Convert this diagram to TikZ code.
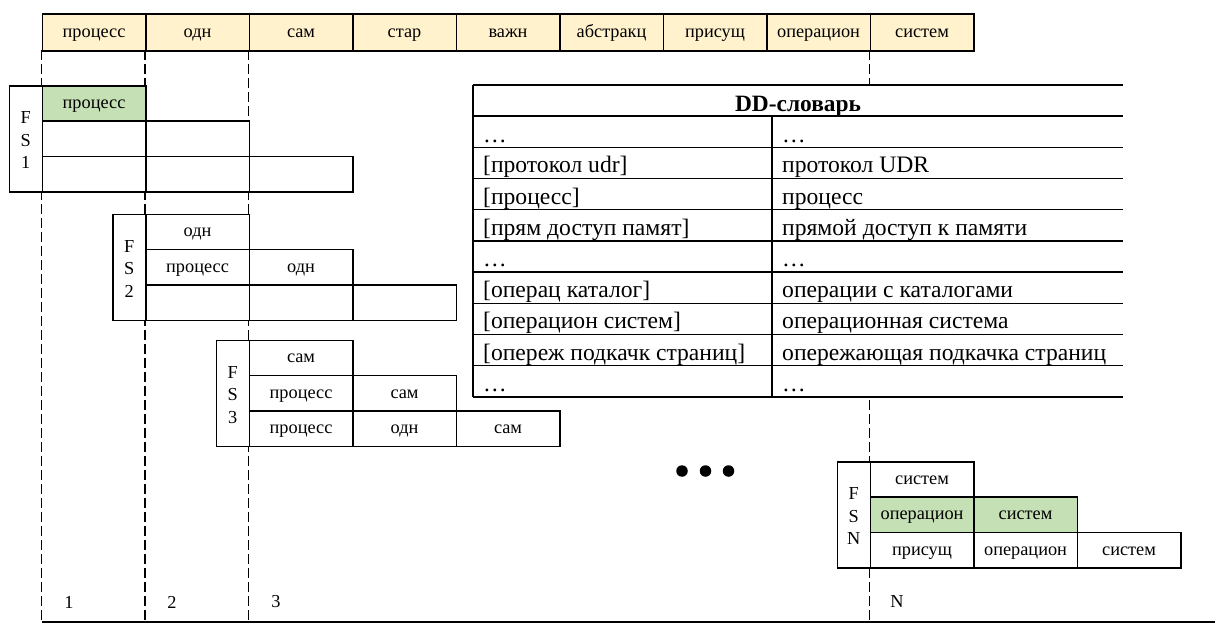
\documentclass[tikz,border=0pt]{standalone}
\usepackage{fontspec}
\setmainfont{Liberation Serif}
\definecolor{hdrfill}{HTML}{FFF2CC}
\definecolor{grn}{HTML}{C5E0B4}
\tikzset{
  cellbox/.style={draw=black, line width=1.6pt, fill=white, anchor=north west, minimum width=103.5pt, minimum height=35.33pt, inner sep=0pt, font=\fontsize{18.3}{22}\selectfont, text height=9.8pt, text depth=0pt},
  hdrbox/.style={cellbox, fill=hdrfill, minimum height=36.5pt},
  grnbox/.style={cellbox, fill=grn},
  fslabel/.style={draw=black, line width=1.6pt, fill=white, anchor=north west, minimum width=33pt, minimum height=106pt, inner sep=0pt},
  fstext/.style={align=center, inner sep=0pt, font=\fontsize{18.3}{22.5}\selectfont},
  guide/.style={line width=1.3pt, dash pattern=on 10pt off 4pt},
  tline/.style={line width=1.4pt},
  ttext/.style={anchor=base west, inner sep=0pt, font=\fontsize{23.6}{28}\selectfont},
  axnum/.style={font=\fontsize{18.3}{22}\selectfont, inner sep=0pt},
  dotc/.style={fill=black, circle, minimum size=11.5pt, inner sep=0pt}
}
\begin{document}
\begin{tikzpicture}[x=1pt,y=-1pt]
\useasboundingbox (0,0) rectangle (1227,626);
% guide coordinates
\coordinate (g1t) at (41.5,50); \coordinate (g1b) at (41.5,622);
\coordinate (g2t) at (145,50); \coordinate (g2b) at (145,622);
\coordinate (g3t) at (248.5,50); \coordinate (g3b) at (248.5,622);
\coordinate (gnt) at (869.5,50); \coordinate (gnb) at (869.5,622);
\coordinate (axr) at (1215,622);
\draw[guide] (g1t) -- (g1b);
\draw[guide] (g2t) -- (g2b);
\draw[guide] (g3t) -- (g3b);
\draw[guide] (gnt) -- (gnb);
\draw[line width=1.6pt] (g1b) -- (axr);
% header
\node[hdrbox] (h1) at (41.5,13.5) {процесс};
\node[hdrbox] (h2) at (145,13.5) {одн};
\node[hdrbox] (h3) at (248.5,13.5) {сам};
\node[hdrbox] (h4) at (352,13.5) {стар};
\node[hdrbox] (h5) at (455.5,13.5) {важн};
\node[hdrbox] (h6) at (559,13.5) {абстракц};
\node[hdrbox] (h7) at (662.5,13.5) {присущ};
\node[hdrbox] (h8) at (766,13.5) {операцион};
\node[hdrbox] (h9) at (869.5,13.5) {систем};
% FS1
\node[fslabel] (fs1) at (8.5,85) {};
\node[fstext, yshift=-1.5pt] (fs1t) at (fs1.center) {F\\S\\1};
\node[grnbox] (a11) at (41.5,85) {процесс};
\node[cellbox] (a21) at (41.5,120.33) {};
\node[cellbox] (a22) at (145,120.33) {};
\node[cellbox] (a31) at (41.5,155.67) {};
\node[cellbox] (a32) at (145,155.67) {};
\node[cellbox] (a33) at (248.5,155.67) {};
% FS2
\node[fslabel] (fs2) at (112,213.5) {};
\node[fstext, yshift=-1.5pt] (fs2t) at (fs2.center) {F\\S\\2};
\node[cellbox] (b11) at (145,213.5) {одн};
\node[cellbox] (b21) at (145,248.83) {процесс};
\node[cellbox] (b22) at (248.5,248.83) {одн};
\node[cellbox] (b31) at (145,284.17) {};
\node[cellbox] (b32) at (248.5,284.17) {};
\node[cellbox] (b33) at (352,284.17) {};
% FS3
\node[fslabel] (fs3) at (215.5,339.5) {};
\node[fstext, yshift=-1.5pt] (fs3t) at (fs3.center) {F\\S\\3};
\node[cellbox] (c11) at (248.5,339.5) {сам};
\node[cellbox] (c21) at (248.5,374.83) {процесс};
\node[cellbox] (c22) at (352,374.83) {сам};
\node[cellbox] (c31) at (248.5,410.17) {процесс};
\node[cellbox] (c32) at (352,410.17) {одн};
\node[cellbox] (c33) at (455.5,410.17) {сам};
% FSN
\node[fslabel] (fsn) at (836.5,461) {};
\node[fstext, yshift=-1.5pt] (fsnt) at (fsn.center) {F\\S\\N};
\node[cellbox] (n11) at (869.5,461) {систем};
\node[grnbox] (n21) at (869.5,496.33) {операцион};
\node[grnbox] (n22) at (973,496.33) {систем};
\node[cellbox] (n31) at (869.5,531.67) {присущ};
\node[cellbox] (n32) at (973,531.67) {операцион};
\node[cellbox] (n33) at (1076.5,531.67) {систем};
% dots
\node[dotc] (d1) at (682,471) {};
\node[dotc] (d2) at (705.5,471) {};
\node[dotc] (d3) at (728.5,471) {};
% axis numbers
\node[axnum] (x1) at (69,602) {1};
\node[axnum] (x2) at (172,602) {2};
\node[axnum] (x3) at (276,602) {3};
\node[axnum] (xn) at (897,602) {N};
% DD table
\fill[white] (473,85) rectangle (1123,396.8);
\draw[tline] (473,85) -- (1123,85);
\draw[tline] (473,85) -- (473,396.8);
\draw[tline] (772,116) -- (772,396.8);
\foreach \r in {0,...,9} {
  \draw[tline] (473,116+31.2*\r) -- (1123,116+31.2*\r);
}
\node[anchor=base, inner sep=0pt, font=\fontsize{23.4}{28}\selectfont\bfseries] (ddh) at (798,111) {DD-словарь};
\node[ttext] (l1) at (483,142) {\ldots};
\node[ttext] (r1) at (782,142) {\ldots};
\node[ttext] (l2) at (483,172.8) {[протокол udr]};
\node[ttext] (r2) at (782,172.8) {протокол UDR};
\node[ttext] (l3) at (483,204) {[процесс]};
\node[ttext] (r3) at (782,204) {процесс};
\node[ttext] (l4) at (483,235.2) {[прям доступ памят]};
\node[ttext] (r4) at (782,235.2) {прямой доступ к памяти};
\node[ttext] (l5) at (483,266.4) {\ldots};
\node[ttext] (r5) at (782,266.4) {\ldots};
\node[ttext] (l6) at (483,297.6) {[операц каталог]};
\node[ttext] (r6) at (782,297.6) {операции с каталогами};
\node[ttext] (l7) at (483,328.8) {[операцион систем]};
\node[ttext] (r7) at (782,328.8) {операционная система};
\node[ttext] (l8) at (483,360) {[опереж подкачк страниц]};
\node[ttext] (r8) at (782,360) {опережающая подкачка страниц};
\node[ttext] (l9) at (483,391.2) {\ldots};
\node[ttext] (r9) at (782,391.2) {\ldots};
\end{tikzpicture}
\end{document}
